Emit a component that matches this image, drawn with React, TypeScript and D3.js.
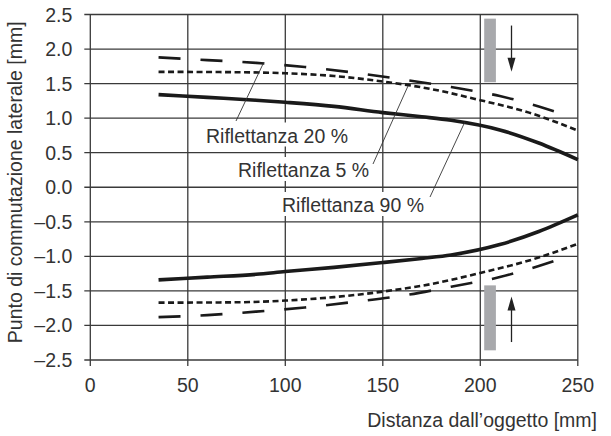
import React from "react";
import * as d3 from "d3";

const xTicks = [0, 50, 100, 150, 200, 250];
const yTicks = [2.5, 2.0, 1.5, 1.0, 0.5, 0.0, -0.5, -1.0, -1.5, -2.0, -2.5];

// Riflettanza 90 % (solid)
const solidTopX = [35, 60, 85, 100, 125, 150, 170, 185, 210, 230, 250];
const solidTopY = [1.34, 1.3, 1.26, 1.23, 1.17, 1.08, 1.02, 0.97, 0.83, 0.64, 0.4];
const solidBotX = [35, 60, 85, 100, 125, 150, 170, 185, 210, 230, 250];
const solidBotY = [-1.34, -1.3, -1.26, -1.22, -1.16, -1.09, -1.03, -0.98, -0.83, -0.64, -0.4];

// Riflettanza 5 % (short dash)
const shortTopX = [35, 75, 100, 125, 150, 175, 200, 225, 250];
const shortTopY = [1.67, 1.665, 1.65, 1.61, 1.53, 1.42, 1.26, 1.08, 0.82];
const shortBotX = [35, 75, 100, 125, 150, 175, 200, 225, 250];
const shortBotY = [-1.67, -1.665, -1.64, -1.59, -1.51, -1.4, -1.24, -1.06, -0.82];

// Riflettanza 20 % (long dash)
const longTopX = [35, 60, 85, 110, 135, 160, 185, 210, 230, 243];
const longTopY = [1.88, 1.84, 1.8, 1.74, 1.66, 1.56, 1.45, 1.32, 1.17, 1.05];
const longBotX = [35, 60, 85, 110, 135, 160, 185, 210, 230, 243];
const longBotY = [-1.88, -1.85, -1.8, -1.74, -1.66, -1.57, -1.44, -1.3, -1.14, -1.02];

// gray zones and arrows
const barX = [202, 208];
const barTopY = [1.52, 2.44];
const barBotY = [-2.36, -1.42];
const arrowX = 216;
const arrowTop = [2.34, 1.67];
const arrowBot = [-2.24, -1.58];

const labels = ["Riflettanza 20 %", "Riflettanza 5 %", "Riflettanza 90 %"];
// annotation anchors on curves (data coords)
const anchorX = [89, 163, 192];
const anchorY = [1.81, 1.47, 0.94];

const W = 611;
const H = 436;
const x = d3.scaleLinear().domain([0, 250]).range([90.3, 577.8]);
const y = d3.scaleLinear().domain([-2.5, 2.5]).range([360, 14.5]);

const FONT = "'Liberation Sans', Arial, Helvetica, sans-serif";
const TXT = "#333";
const GRID = "#3a3a3a";

function fmt(v: number) {
  const s = v.toFixed(1);
  return v < 0 ? "\u2013" + s.slice(1) : s;
}

function pts(xs: number[], ys: number[]): [number, number][] {
  return xs.map((v, i) => [v, ys[i]]);
}

const line = d3
  .line<[number, number]>()
  .x((d) => x(d[0]))
  .y((d) => y(d[1]))
  .curve(d3.curveMonotoneX);

// label layout in pixels (text start, baseline, width of knock-out box) and leader end near text
const labelLayout = [
  { tx: 206, ty: 142.5, w: 148, lx: 236, ly: 121 },
  { tx: 238, ty: 177, w: 137, lx: 373, ly: 164 },
  { tx: 282, ty: 212, w: 148, lx: 430, ly: 197 },
];

export default function App() {
  const left = x(0);
  const right = x(250);
  const top = y(2.5);
  const bottom = y(-2.5);
  const fs = 19.5;
  return (
    <svg
      width={W}
      height={H}
      style={{ position: "absolute", left: 0, top: 0, background: "#fff" }}
      fontFamily={FONT}
    >
      <rect x={0} y={0} width={W} height={H} fill="#fff" />
      {/* grid */}
      {yTicks.map((t) => (
        <line key={"gy" + t} x1={left - 6} x2={right} y1={y(t)} y2={y(t)} stroke={GRID} strokeWidth={1.3} />
      ))}
      {xTicks.map((t) => (
        <line key={"gx" + t} x1={x(t)} x2={x(t)} y1={top} y2={bottom + 6} stroke={GRID} strokeWidth={1.3} />
      ))}
      {/* tick labels */}
      {yTicks.map((t) => (
        <text key={"ty" + t} x={left - 18} y={y(t) + 7} textAnchor="end" fontSize={fs} fill={TXT}>
          {fmt(t)}
        </text>
      ))}
      {xTicks.map((t) => (
        <text key={"tx" + t} x={x(t)} y={392} textAnchor="middle" fontSize={fs} fill={TXT}>
          {t}
        </text>
      ))}
      {/* axis titles */}
      <text x={597} y={427} textAnchor="end" fontSize={fs} fill={TXT}>
        Distanza dall’oggetto [mm]
      </text>
      <text
        transform={`translate(22, ${(top + bottom) / 2 - 5}) rotate(-90)`}
        textAnchor="middle"
        fontSize={fs}
        fill={TXT}
      >
        Punto di commutazione laterale [mm]
      </text>
      {/* gray bars */}
      <rect x={x(barX[0])} y={y(barTopY[1])} width={x(barX[1]) - x(barX[0])} height={y(barTopY[0]) - y(barTopY[1])} fill="#a8a9ac" />
      <rect x={x(barX[0])} y={y(barBotY[1])} width={x(barX[1]) - x(barX[0])} height={y(barBotY[0]) - y(barBotY[1])} fill="#a8a9ac" />
      {/* arrows */}
      <line x1={x(arrowX)} x2={x(arrowX)} y1={y(arrowTop[0])} y2={y(arrowTop[1]) - 10} stroke="#222" strokeWidth={1.3} />
      <path d={`M${x(arrowX) - 4},${y(arrowTop[1]) - 14} L${x(arrowX) + 4},${y(arrowTop[1]) - 14} L${x(arrowX)},${y(arrowTop[1])} Z`} fill="#222" />
      <line x1={x(arrowX)} x2={x(arrowX)} y1={y(arrowBot[0])} y2={y(arrowBot[1]) + 10} stroke="#222" strokeWidth={1.3} />
      <path d={`M${x(arrowX) - 4},${y(arrowBot[1]) + 14} L${x(arrowX) + 4},${y(arrowBot[1]) + 14} L${x(arrowX)},${y(arrowBot[1])} Z`} fill="#222" />
      {/* curves */}
      <path d={line(pts(longTopX, longTopY)) || ""} fill="none" stroke="#1a1a1a" strokeWidth={2.6} strokeDasharray="22,20" />
      <path d={line(pts(longBotX, longBotY)) || ""} fill="none" stroke="#1a1a1a" strokeWidth={2.6} strokeDasharray="22,20" />
      <path d={line(pts(shortTopX, shortTopY)) || ""} fill="none" stroke="#1a1a1a" strokeWidth={2.6} strokeDasharray="6,3.5" />
      <path d={line(pts(shortBotX, shortBotY)) || ""} fill="none" stroke="#1a1a1a" strokeWidth={2.6} strokeDasharray="6,3.5" />
      <path d={line(pts(solidTopX, solidTopY)) || ""} fill="none" stroke="#1a1a1a" strokeWidth={3.6} />
      <path d={line(pts(solidBotX, solidBotY)) || ""} fill="none" stroke="#1a1a1a" strokeWidth={3.6} />
      {/* annotations */}
      {labels.map((lab, i) => {
        const L = labelLayout[i];
        return (
          <g key={lab}>
            <rect x={L.tx - 2} y={L.ty - 20} width={L.w} height={24} fill="#fff" />
            <line x1={L.lx} y1={L.ly} x2={x(anchorX[i])} y2={y(anchorY[i])} stroke="#333" strokeWidth={0.9} />
            <text x={L.tx} y={L.ty} fontSize={fs} fill={TXT}>
              {lab}
            </text>
          </g>
        );
      })}
    </svg>
  );
}
